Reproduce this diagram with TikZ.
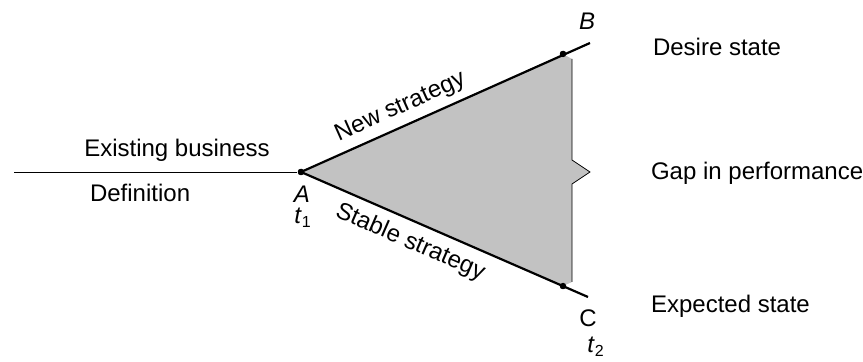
\documentclass[tikz,border=0pt]{standalone}
\usepackage{fontspec}
\setmainfont{Liberation Sans}
\begin{document}
\begin{tikzpicture}[x=0.5pt,y=-0.5pt,font=\fontsize{12}{14}\selectfont,
  edge/.style={line width=1.1pt},
  dot/.style={circle,fill,inner sep=0pt,minimum size=3.2pt}]
\useasboundingbox (0,0) rectangle (863,362);
\coordinate (L) at (14,172);
\node[dot] (A) at (301,172) {};
\node[dot] (B) at (563,54) {};
\node[dot] (C) at (563,286) {};
\coordinate (Bend) at (590,43);
\coordinate (Cend) at (588,297);
% gap between the two strategies
\coordinate (Gtop) at (572,59);
\coordinate (Gbot) at (572,282);
\coordinate (Tip) at (590,172);
\fill[gray!48] (A.center) -- (B.center) -- (Gtop) -- (572,160) -- (Tip) -- (572,184) -- (Gbot) -- (C.center) -- cycle;
\draw (Gtop) -- (572,160) -- (Tip) -- (572,184) -- (Gbot);
\draw (L) -- (A);
\draw[edge] (A.center) -- node[pos=0.37,sloped,above] {New strategy} (Bend);
\draw[edge] (A.center) -- node[pos=0.41,sloped,below,yshift=-1pt] {Stable strategy} (Cend);
\node[dot] at (A) {};
\node[dot] at (B) {};
\node[dot] at (C) {};

\node (existing) at (177,150) {Existing business};
\node[anchor=west] (definition) at (83,193) {Definition};
\node (labA) at (302,194) {\textit{A}};
\node (t1) at (303,218) {\textit{t}\textsubscript{1}};
\node (labB) at (587,21) {\textit{B}};
\node (labC) at (588,318) {C};
\node (t2) at (596,347) {\textit{t}\textsubscript{2}};
\node[anchor=west] (desire) at (646,47) {Desire state};
\node[anchor=west] (gap) at (644,173) {Gap in performance};
\node[anchor=west] (expected) at (644,306) {Expected state};
\end{tikzpicture}
\end{document}
